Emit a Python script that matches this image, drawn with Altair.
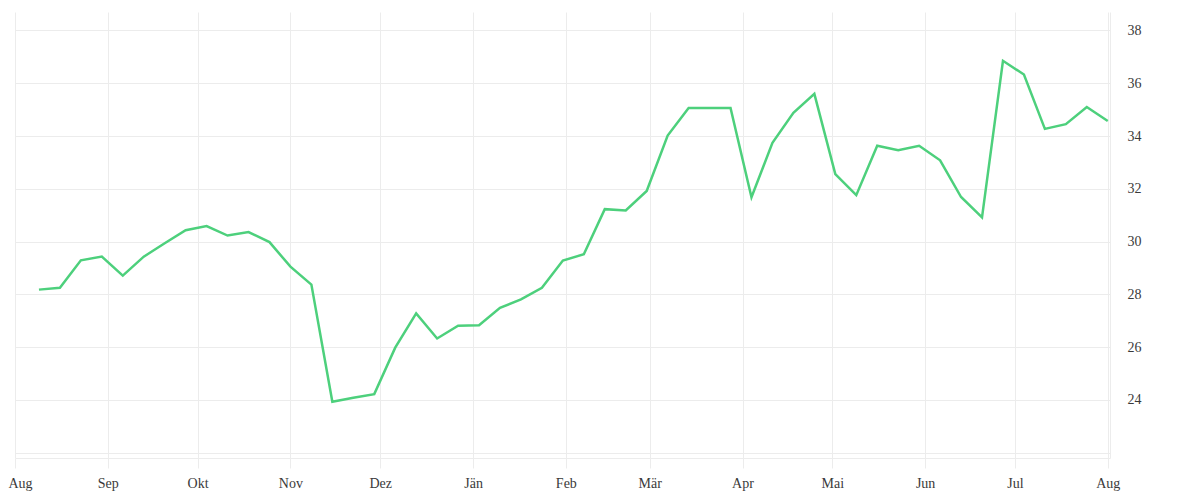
import altair as alt
import pandas as pd
from datetime import date, timedelta

# weekly observations starting 2022-08-09
start = date(2022, 8, 9)
values = [
    28.18, 28.25, 29.29, 29.43, 28.71, 29.43, 29.94, 30.43, 30.59, 30.23,
    30.36, 29.98, 29.05, 28.37, 23.93, 24.08, 24.22, 25.98, 27.28, 26.33,
    26.81, 26.83, 27.49, 27.81, 28.25, 29.28, 29.52, 31.23, 31.18, 31.92,
    34.02, 35.06, 35.06, 35.06, 31.68, 33.74, 34.88, 35.60, 32.56, 31.76,
    33.63, 33.46, 33.63, 33.08, 31.69, 30.92, 36.85, 36.33, 34.27, 34.45,
    35.10, 34.57,
]
dates = [(start + timedelta(days=7 * i)).isoformat() for i in range(len(values))]

month_labels = ["Jän", "Feb", "Mär", "Apr", "Mai", "Jun", "Jul", "Aug", "Sep", "Okt", "Nov", "Dez"]
y_ticks = [22, 24, 26, 28, 30, 32, 34, 36, 38]

df = pd.DataFrame({"date": dates, "value": values})

tick_dates = []
y, m = 2022, 8
for _ in range(13):
    tick_dates.append(alt.DateTime(year=y, month=m, date=1, utc=True))
    m += 1
    if m > 12:
        m = 1
        y += 1

label_expr = "[" + ",".join("'" + s + "'" for s in month_labels) + "][utcmonth(datum.value)]"
first_test = "datum.value < utc(2022, 7, 15)"

grid_color = "#ececec"
font = "Liberation Serif"

chart = (
    alt.Chart(df)
    .mark_line(color="#4dd07c", strokeWidth=2.5)
    .encode(
        x=alt.X(
            "date:T",
            scale=alt.Scale(
                type="utc",
                domain=[
                    alt.DateTime(year=2022, month=8, date=1, utc=True),
                    alt.DateTime(year=2023, month=8, date=1, hours=18, utc=True),
                ],
                nice=False,
            ),
            axis=alt.Axis(
                title=None,
                values=tick_dates,
                labelExpr=label_expr,
                grid=True,
                gridColor=grid_color,
                domainColor=grid_color,
                tickColor=grid_color,
                tickSize=10,
                labelPadding=8,
                labelFont=font,
                labelFontSize=14,
                labelColor="#3a3a3a",
                labelOverlap=False,
                labelFlush=False,
                labelAlign={"condition": {"test": first_test, "value": "left"}, "value": "center"},
                labelOffset={"condition": {"test": first_test, "value": -7}, "value": 0},
            ),
        ),
        y=alt.Y(
            "value:Q",
            scale=alt.Scale(domain=[21.8, 38.7], nice=False, zero=False),
            axis=alt.Axis(
                title=None,
                orient="right",
                values=y_ticks,
                labelExpr="datum.value == 22 ? '' : datum.label",
                grid=True,
                gridColor=grid_color,
                domainColor=grid_color,
                ticks=False,
                labelPadding=17,
                labelFont=font,
                labelFontSize=14,
                labelColor="#3a3a3a",
                labelBaseline="middle",
            ),
        ),
    )
    .properties(
        width=1095,
        height=446,
        background="white",
        autosize=alt.AutoSizeParams(type="none"),
        padding={"left": 7, "top": 4, "right": 80, "bottom": 40},
    )
    .configure_view(strokeWidth=0)
)

chart.save("out.html", embed_options={"renderer": "svg", "actions": False})
